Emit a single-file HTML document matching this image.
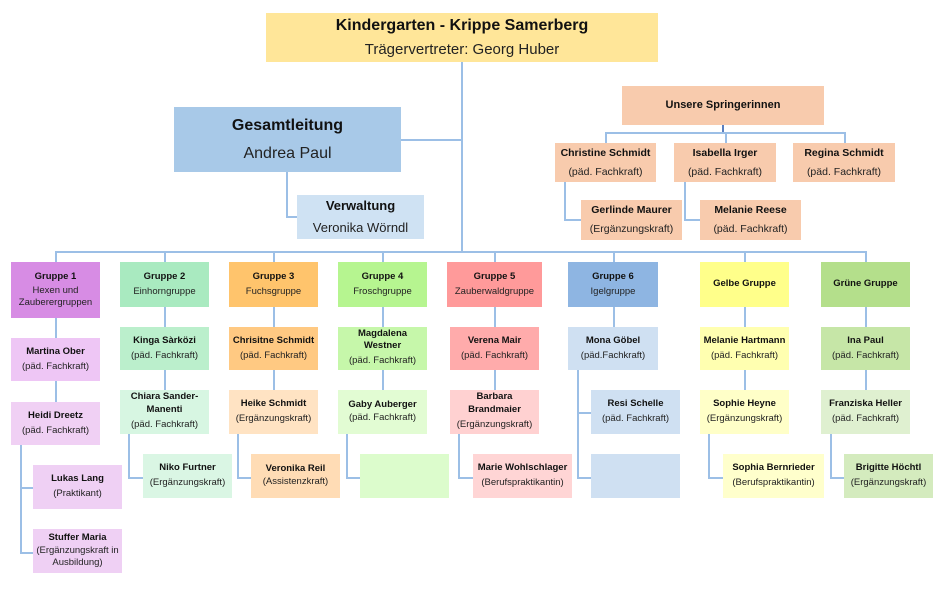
<!DOCTYPE html>
<html><head><meta charset="utf-8"><style>
body{margin:0;width:945px;height:605px;background:#fff;position:relative;overflow:hidden;font-family:"Liberation Sans",sans-serif;}
.b{position:absolute;display:flex;flex-direction:column;justify-content:center;align-items:center;text-align:center;font-size:9.5px;line-height:1.55;color:#222;box-sizing:border-box;}
.b b{font-weight:bold;color:#111;}
.l{position:absolute;background:#9cbfe6;}
</style></head><body>
<!-- lines -->
<div class="l" style="left:461px;top:62px;width:2px;height:191px"></div>
<div class="l" style="left:55px;top:251px;width:812px;height:2px"></div>
<div class="l" style="left:401px;top:139px;width:61px;height:1.5px"></div>
<div class="l" style="left:286px;top:172px;width:1.5px;height:46px"></div>
<div class="l" style="left:286px;top:216px;width:11px;height:1.5px"></div>
<div class="l" style="left:722px;top:125px;width:1.5px;height:8px;background:#5a7fc0"></div>
<div class="l" style="left:605px;top:132px;width:241px;height:1.5px"></div>
<div class="l" style="left:605px;top:132px;width:1.5px;height:11px"></div>
<div class="l" style="left:725px;top:132px;width:1.5px;height:11px"></div>
<div class="l" style="left:844px;top:132px;width:1.5px;height:11px"></div>
<div class="l" style="left:564px;top:182px;width:1.5px;height:38px"></div>
<div class="l" style="left:564px;top:219px;width:17px;height:1.5px"></div>
<div class="l" style="left:684px;top:182px;width:1.5px;height:38px"></div>
<div class="l" style="left:684px;top:219px;width:16px;height:1.5px"></div>
<!-- group drops -->
<div class="l" style="left:55px;top:252px;width:1.5px;height:10px"></div>
<div class="l" style="left:164px;top:252px;width:1.5px;height:10px"></div>
<div class="l" style="left:273px;top:252px;width:1.5px;height:10px"></div>
<div class="l" style="left:382px;top:252px;width:1.5px;height:10px"></div>
<div class="l" style="left:494px;top:252px;width:1.5px;height:10px"></div>
<div class="l" style="left:613px;top:252px;width:1.5px;height:10px"></div>
<div class="l" style="left:744px;top:252px;width:1.5px;height:10px"></div>
<div class="l" style="left:865px;top:252px;width:1.5px;height:10px"></div>
<!-- column verticals -->
<div class="l" style="left:55px;top:318px;width:1.5px;height:84px"></div>
<div class="l" style="left:20px;top:445px;width:1.5px;height:108px"></div>
<div class="l" style="left:20px;top:487px;width:13px;height:1.5px"></div>
<div class="l" style="left:20px;top:552px;width:13px;height:1.5px"></div>
<div class="l" style="left:164px;top:307px;width:1.5px;height:83px"></div>
<div class="l" style="left:128px;top:434px;width:1.5px;height:44px"></div>
<div class="l" style="left:128px;top:477px;width:15px;height:1.5px"></div>
<div class="l" style="left:273px;top:307px;width:1.5px;height:83px"></div>
<div class="l" style="left:237px;top:434px;width:1.5px;height:44px"></div>
<div class="l" style="left:237px;top:477px;width:14px;height:1.5px"></div>
<div class="l" style="left:382px;top:307px;width:1.5px;height:83px"></div>
<div class="l" style="left:346px;top:434px;width:1.5px;height:44px"></div>
<div class="l" style="left:346px;top:477px;width:14px;height:1.5px"></div>
<div class="l" style="left:494px;top:307px;width:1.5px;height:83px"></div>
<div class="l" style="left:458px;top:434px;width:1.5px;height:44px"></div>
<div class="l" style="left:458px;top:477px;width:15px;height:1.5px"></div>
<div class="l" style="left:613px;top:307px;width:1.5px;height:20px"></div>
<div class="l" style="left:577px;top:370px;width:1.5px;height:108px"></div>
<div class="l" style="left:577px;top:412px;width:14px;height:1.5px"></div>
<div class="l" style="left:577px;top:477px;width:14px;height:1.5px"></div>
<div class="l" style="left:744px;top:307px;width:1.5px;height:83px"></div>
<div class="l" style="left:708px;top:434px;width:1.5px;height:44px"></div>
<div class="l" style="left:708px;top:477px;width:15px;height:1.5px"></div>
<div class="l" style="left:865px;top:307px;width:1.5px;height:83px"></div>
<div class="l" style="left:830px;top:434px;width:1.5px;height:44px"></div>
<div class="l" style="left:830px;top:477px;width:14px;height:1.5px"></div>

<!-- top -->
<div class="b" style="left:266px;top:13px;width:392px;height:49px;background:#ffe699;font-size:15px;line-height:1.6"><b style="font-size:16px">Kindergarten - Krippe Samerberg</b><span>Trägervertreter: Georg Huber</span></div>
<div class="b" style="left:174px;top:107px;width:227px;height:65px;background:#a8c9e8;font-size:16px;line-height:1.7"><b>Gesamtleitung</b><span>Andrea Paul</span></div>
<div class="b" style="left:297px;top:195px;width:127px;height:44px;background:#cfe2f3;font-size:13px;line-height:1.7"><b>Verwaltung</b><span>Veronika Wörndl</span></div>
<div class="b" style="left:622px;top:86px;width:202px;height:39px;background:#f8cbad;font-size:11px"><b>Unsere Springerinnen</b></div>
<div class="b" style="left:555px;top:143px;width:101px;height:39px;background:#f8cbad;font-size:10.5px;line-height:1.8"><b>Christine Schmidt</b><span>(päd. Fachkraft)</span></div>
<div class="b" style="left:674px;top:143px;width:102px;height:39px;background:#f8cbad;font-size:10.5px;line-height:1.8"><b>Isabella Irger</b><span>(päd. Fachkraft)</span></div>
<div class="b" style="left:793px;top:143px;width:102px;height:39px;background:#f8cbad;font-size:10.5px;line-height:1.8"><b>Regina Schmidt</b><span>(päd. Fachkraft)</span></div>
<div class="b" style="left:581px;top:200px;width:101px;height:40px;background:#f8cbad;font-size:10.5px;line-height:1.8"><b>Gerlinde Maurer</b><span>(Ergänzungskraft)</span></div>
<div class="b" style="left:700px;top:200px;width:101px;height:40px;background:#f8cbad;font-size:10.5px;line-height:1.8"><b>Melanie Reese</b><span>(päd. Fachkraft)</span></div>

<!-- G1 -->
<div class="b" style="left:11px;top:262px;width:89px;height:56px;background:#d78ce4"><b>Gruppe 1</b><span style="line-height:1.3">Hexen und<br>Zauberergruppen</span></div>
<div class="b" style="left:11px;top:338px;width:89px;height:43px;background:#eec6f5"><b>Martina Ober</b><span>(päd. Fachkraft)</span></div>
<div class="b" style="left:11px;top:402px;width:89px;height:43px;background:#f0d0f4"><b>Heidi Dreetz</b><span>(päd. Fachkraft)</span></div>
<div class="b" style="left:33px;top:465px;width:89px;height:44px;background:#efd0f4"><b>Lukas Lang</b><span>(Praktikant)</span></div>
<div class="b" style="left:33px;top:529px;width:89px;height:44px;background:#efd0f4;line-height:1.3"><b>Stuffer Maria</b><span>(Ergänzungskraft in<br>Ausbildung)</span></div>
<!-- G2 -->
<div class="b" style="left:120px;top:262px;width:89px;height:45px;background:#a9eac0"><b>Gruppe 2</b><span>Einhorngruppe</span></div>
<div class="b" style="left:120px;top:327px;width:89px;height:43px;background:#bbefcc"><b>Kinga Sàrközi</b><span>(päd. Fachkraft)</span></div>
<div class="b" style="left:120px;top:390px;width:89px;height:44px;background:#d7f6e2;line-height:1.35"><b>Chiara Sander-<br>Manenti</b><span style="line-height:1.7">(päd. Fachkraft)</span></div>
<div class="b" style="left:143px;top:454px;width:89px;height:44px;background:#daf6e4"><b>Niko Furtner</b><span>(Ergänzungskraft)</span></div>
<!-- G3 -->
<div class="b" style="left:229px;top:262px;width:89px;height:45px;background:#ffc46c"><b>Gruppe 3</b><span>Fuchsgruppe</span></div>
<div class="b" style="left:229px;top:327px;width:89px;height:43px;background:#ffc982"><b>Chrisitne Schmidt</b><span>(päd. Fachkraft)</span></div>
<div class="b" style="left:229px;top:390px;width:89px;height:44px;background:#ffe3c3"><b>Heike Schmidt</b><span>(Ergänzungskraft)</span></div>
<div class="b" style="left:251px;top:454px;width:89px;height:44px;background:#ffdcb5;line-height:1.35"><b>Veronika Reil</b><span>(Assistenzkraft)</span></div>
<!-- G4 -->
<div class="b" style="left:338px;top:262px;width:89px;height:45px;background:#b6f590"><b>Gruppe 4</b><span>Froschgruppe</span></div>
<div class="b" style="left:338px;top:327px;width:89px;height:43px;background:#c6f7aa;line-height:1.35"><b>Magdalena<br>Westner</b><span style="line-height:1.7">(päd. Fachkraft)</span></div>
<div class="b" style="left:338px;top:390px;width:89px;height:44px;background:#e2fcd3;line-height:1.35"><b>Gaby Auberger</b><span>(päd. Fachkraft)</span></div>
<div class="b" style="left:360px;top:454px;width:89px;height:44px;background:#dcfccc"></div>
<!-- G5 -->
<div class="b" style="left:447px;top:262px;width:95px;height:45px;background:#ff9a9a"><b>Gruppe 5</b><span>Zauberwaldgruppe</span></div>
<div class="b" style="left:450px;top:327px;width:89px;height:43px;background:#ffabab"><b>Verena Mair</b><span>(päd. Fachkraft)</span></div>
<div class="b" style="left:450px;top:390px;width:89px;height:44px;background:#ffd1d1;line-height:1.35"><b>Barbara<br>Brandmaier</b><span style="line-height:1.7">(Ergänzungskraft)</span></div>
<div class="b" style="left:473px;top:454px;width:99px;height:44px;background:#ffd5d5"><b>Marie Wohlschlager</b><span>(Berufspraktikantin)</span></div>
<!-- G6 -->
<div class="b" style="left:568px;top:262px;width:90px;height:45px;background:#8eb5e2"><b>Gruppe 6</b><span>Igelgruppe</span></div>
<div class="b" style="left:568px;top:327px;width:90px;height:43px;background:#cfe0f2"><b>Mona Göbel</b><span>(päd.Fachkraft)</span></div>
<div class="b" style="left:591px;top:390px;width:89px;height:44px;background:#cfe0f2"><b>Resi Schelle</b><span>(päd. Fachkraft)</span></div>
<div class="b" style="left:591px;top:454px;width:89px;height:44px;background:#cfe0f2"></div>
<!-- Gelbe -->
<div class="b" style="left:700px;top:262px;width:89px;height:45px;background:#ffff8a"><b>Gelbe Gruppe</b></div>
<div class="b" style="left:700px;top:327px;width:89px;height:43px;background:#ffffb0"><b>Melanie Hartmann</b><span>(päd. Fachkraft)</span></div>
<div class="b" style="left:700px;top:390px;width:89px;height:44px;background:#ffffc8"><b>Sophie Heyne</b><span>(Ergänzungskraft)</span></div>
<div class="b" style="left:723px;top:454px;width:101px;height:44px;background:#ffffcc"><b>Sophia Bernrieder</b><span>(Berufspraktikantin)</span></div>
<!-- Grüne -->
<div class="b" style="left:821px;top:262px;width:89px;height:45px;background:#b4df8b"><b>Grüne Gruppe</b></div>
<div class="b" style="left:821px;top:327px;width:89px;height:43px;background:#c6e6a7"><b>Ina Paul</b><span>(päd. Fachkraft)</span></div>
<div class="b" style="left:821px;top:390px;width:89px;height:44px;background:#dff0d0"><b>Franziska Heller</b><span>(päd. Fachkraft)</span></div>
<div class="b" style="left:844px;top:454px;width:89px;height:44px;background:#d4ebbe"><b>Brigitte Höchtl</b><span>(Ergänzungskraft)</span></div>
</body></html>
